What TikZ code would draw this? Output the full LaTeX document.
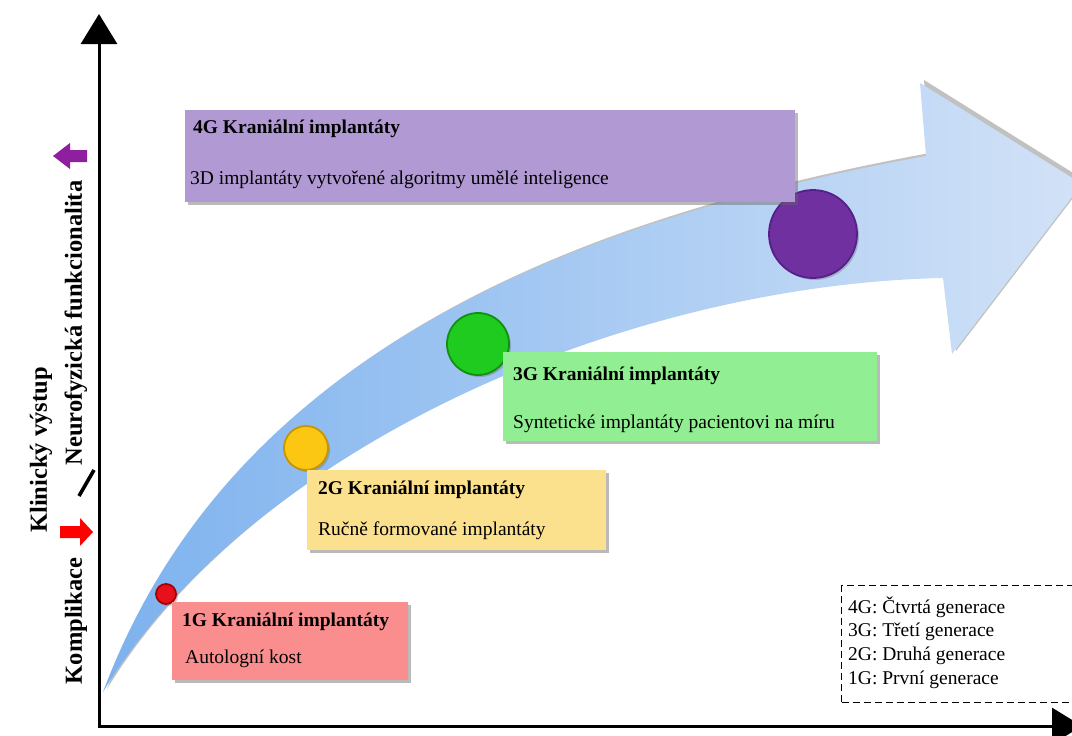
\documentclass[tikz,border=0pt]{standalone}
\usepackage{fontspec}
\setmainfont{Liberation Serif}
\usetikzlibrary{shadows,arrows.meta}
\definecolor{c1}{HTML}{FA8E8E}
\definecolor{c2}{HTML}{FBE08E}
\definecolor{c3}{HTML}{92EE92}
\definecolor{c4}{HTML}{B19AD3}
\definecolor{arrL}{HTML}{7DB2EE}
\definecolor{arrR}{HTML}{D2E2F7}
\definecolor{purp}{HTML}{8E1F9E}
\definecolor{dred}{HTML}{E8101A}
\definecolor{dredrim}{HTML}{A80000}
\definecolor{dyel}{HTML}{FBC712}
\definecolor{dyelrim}{HTML}{C89400}
\definecolor{dgrn}{HTML}{1ECB1E}
\definecolor{dgrnrim}{HTML}{119011}
\definecolor{dpur}{HTML}{7030A0}
\definecolor{dpurrim}{HTML}{55208A}
\begin{document}
\begin{tikzpicture}[x=1pt,y=-1pt,
  box/.style={rectangle, inner sep=0pt, anchor=north west,
    drop shadow={shadow xshift=3pt, shadow yshift=-3pt, opacity=0.45, fill=black!60}},
  ttl/.style={anchor=west, inner sep=0pt, font=\fontsize{19.5}{22}\selectfont\bfseries},
  txt/.style={anchor=west, inner sep=0pt, font=\fontsize{19.5}{22}\selectfont},
  axl/.style={inner sep=0pt, rotate=90, font=\fontsize{24.5}{28}\selectfont\bfseries},
  dot/.style={circle, inner sep=0pt, line width=1.8pt,
    drop shadow={shadow xshift=2pt, shadow yshift=-2pt, opacity=0.35, fill=black!60}},
  axis/.style={line width=3pt, -{Triangle[length=30pt,width=36pt]}},
]
\useasboundingbox (0,0) rectangle (1072,736);
\clip (0,0) rectangle (1072,736);

% big curved arrow
\path[shading=axis, left color=arrL, right color=arrR,
  drop shadow={shadow xshift=4pt, shadow yshift=3pt, opacity=0.35, fill=black!70}]
  (103,692) .. controls (220,380) and (520,230) .. (926,156)
  -- (920,83) -- (1082,184) -- (952,354) -- (943,278)
  .. controls (620,285) and (250,450) .. (103,692) -- cycle;

% axes
\coordinate (o) at (99,726);
\coordinate (ytop) at (99,14);
\coordinate (xo) at (97.5,726);
\coordinate (xend) at (1082,726);
\draw[axis] (o) -- (ytop);
\draw[axis] (xo) -- (xend);

% axis labels
\node[axl] (lab1) at (41,450) {Klinický výstup};
\node[axl] (lab2) at (76,323) {Neurofyzická funkcionalita};
\node[axl] (lab3) at (76,621) {Komplikace};
\draw[line width=3.6pt] (79,496) -- (94,470);
\fill[purp] (53,156) -- (70,143) -- (70,150) -- (87,150) -- (87,162) -- (70,162) -- (70,169) -- cycle;
\fill[red] (93,532) -- (80,518) -- (80,526) -- (60,526) -- (60,538) -- (80,538) -- (80,546) -- cycle;

% circles
\node[dot, fill=dred, draw=dredrim, minimum size=20pt] (n1) at (166,594) {};
\node[dot, fill=dyel, draw=dyelrim, minimum size=44pt] (n2) at (306,448) {};
\node[dot, fill=dgrn, draw=dgrnrim, minimum size=62pt] (n3) at (478,344) {};
\node[dot, fill=dpur, draw=dpurrim, minimum size=88pt] (n4) at (813,234) {};

% boxes
\node[box, fill=c4, minimum width=610pt, minimum height=92pt] (b4) at (185,110) {};
\node[ttl] (t4) at (193,129) {4G Kraniální implantáty};
\node[txt] (d4) at (190,180) {3D implantáty vytvořené algoritmy umělé inteligence};

\node[box, fill=c3, minimum width=374pt, minimum height=89pt] (b3) at (503,352) {};
\node[ttl] (t3) at (513,376) {3G Kraniální implantáty};
\node[txt] (d3) at (513,424) {Syntetické implantáty pacientovi na míru};

\node[box, fill=c2, minimum width=299pt, minimum height=80pt] (b2) at (307,470) {};
\node[ttl] (t2) at (318,490) {2G Kraniální implantáty};
\node[txt] (d2) at (318,531) {Ručně formované implantáty};

\node[box, fill=c1, minimum width=236pt, minimum height=78pt] (b1) at (172,602) {};
\node[ttl] (t1) at (182,622) {1G Kraniální implantáty};
\node[txt] (d1) at (185,659) {Autologní kost};

% legend
\node[draw, line width=1.3pt, dash pattern=on 7pt off 4pt, anchor=north west,
  minimum width=250pt, minimum height=117pt, inner sep=0pt] (leg) at (841,585) {};
\node[txt] (l4) at (848,607) {4G: Čtvrtá generace};
\node[txt] (l3) at (848,632) {3G: Třetí generace};
\node[txt] (l2) at (848,656) {2G: Druhá generace};
\node[txt] (l1) at (848,680) {1G: První generace};
\end{tikzpicture}
\end{document}
